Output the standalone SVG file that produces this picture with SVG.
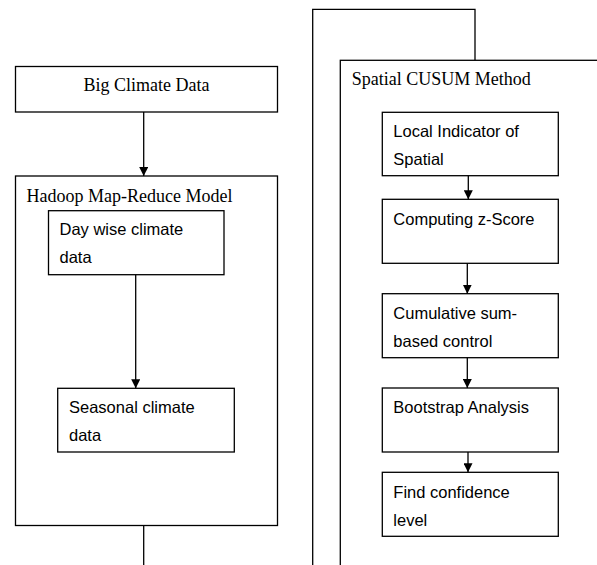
<svg xmlns="http://www.w3.org/2000/svg" width="597" height="565" viewBox="0 0 597 565">
<style>
.box{fill:#fff;stroke:#000;stroke-width:1.3}
.frame{fill:none;stroke:#000;stroke-width:1.3}
.serif{font-family:"Liberation Serif","Times New Roman",serif;font-size:18px;fill:#000}
.sans{font-family:"Liberation Sans",Arial,sans-serif;font-size:16.5px;fill:#000}
.conn{fill:none;stroke:#000;stroke-width:1.3}
</style>
<defs>
<marker id="arr" viewBox="0 0 10 10" refX="10" refY="5" markerWidth="9" markerHeight="9" markerUnits="userSpaceOnUse" orient="auto">
<path d="M0,0 L10,5 L0,10 z" fill="#000"/>
</marker>
</defs>
<rect width="597" height="565" fill="#fff"/>
<g id="big-climate-data">
<rect class="box" x="15.5" y="66.5" width="262" height="45.5"/>
<text class="serif" x="146.5" y="90.5" text-anchor="middle">Big Climate Data</text>
</g>
<g id="hadoop">
<rect class="frame" x="15.5" y="176" width="262" height="349.5"/>
<text class="serif" x="26.5" y="201.5">Hadoop Map-Reduce Model</text>
</g>
<g id="day-wise">
<rect class="box" x="48.5" y="210.7" width="175.5" height="64"/>
<text class="sans" x="59.5" y="235">Day wise climate</text>
<text class="sans" x="59.5" y="262.7">data</text>
</g>
<g id="seasonal">
<rect class="box" x="57.7" y="388.3" width="176.6" height="63.7"/>
<text class="sans" x="69" y="413.3">Seasonal climate</text>
<text class="sans" x="69" y="441">data</text>
</g>
<g id="spatial-cusum">
<rect class="frame" x="340.3" y="60.3" width="280" height="520"/>
<text class="serif" x="351.7" y="85">Spatial CUSUM Method</text>
</g>
<g id="local-indicator">
<rect class="box" x="382.3" y="112.3" width="176" height="63.4"/>
<text class="sans" x="393.3" y="137.3">Local Indicator of</text>
<text class="sans" x="393.3" y="164.5">Spatial</text>
</g>
<g id="z-score">
<rect class="box" x="382.3" y="199.3" width="176" height="64"/>
<text class="sans" x="393.3" y="225">Computing z-Score</text>
</g>
<g id="cumulative">
<rect class="box" x="382.3" y="293.7" width="176" height="64"/>
<text class="sans" x="393.3" y="319.3">Cumulative sum-</text>
<text class="sans" x="393.3" y="346.7">based control</text>
</g>
<g id="bootstrap">
<rect class="box" x="382.3" y="388" width="176" height="64"/>
<text class="sans" x="393.3" y="413.3">Bootstrap Analysis</text>
</g>
<g id="confidence">
<rect class="box" x="382.3" y="472.3" width="176" height="64"/>
<text class="sans" x="393.3" y="498.3">Find confidence</text>
<text class="sans" x="393.3" y="525.7">level</text>
</g>
<g id="connectors">
<line class="conn" x1="143.7" y1="112" x2="143.7" y2="176" marker-end="url(#arr)"/>
<line class="conn" x1="135.7" y1="274.7" x2="135.7" y2="388.3" marker-end="url(#arr)"/>
<line class="conn" x1="143.7" y1="525.5" x2="143.7" y2="566"/>
<polyline class="conn" points="312.7,566 312.7,9.3 475,9.3 475,60.3"/>
<line class="conn" x1="468.3" y1="175.7" x2="468.3" y2="199.3" marker-end="url(#arr)"/>
<line class="conn" x1="467.3" y1="263.3" x2="467.3" y2="293.7" marker-end="url(#arr)"/>
<line class="conn" x1="467.3" y1="357.7" x2="467.3" y2="388" marker-end="url(#arr)"/>
<line class="conn" x1="468" y1="452" x2="468" y2="472.3" marker-end="url(#arr)"/>
</g>
</svg>
